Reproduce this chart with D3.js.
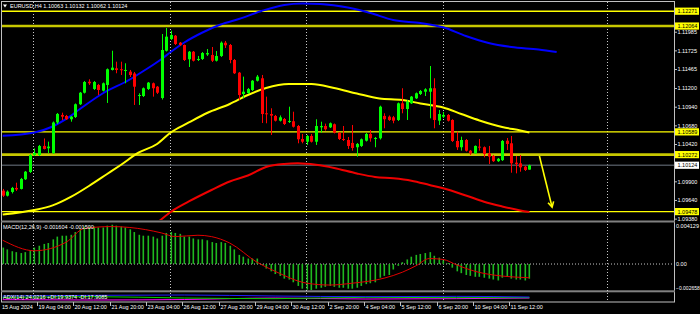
<!DOCTYPE html>
<html lang="en">
<head>
<meta charset="UTF-8" />
<title>EURUSD,H4</title>
<style>
  body { margin: 0; background: #000; }
  svg { display: block; }
  text { font-family: "Liberation Sans", Arial, sans-serif; font-size: 5.5px; fill: #fff; }
</style>
<script src="https://cdn.jsdelivr.net/npm/d3@7/dist/d3.min.js"></script>
</head>
<body>
<svg width="700" height="314"></svg>
<script>
// H4 bars, [open, high, low, close]
const candles = [
  [1.09770,1.09794,1.09682,1.09700],[1.09700,1.09773,1.09689,1.09756],[1.09752,1.09822,1.09731,1.09808],
  [1.09808,1.09881,1.09766,1.09787],[1.09794,1.09947,1.09787,1.09933],[1.09929,1.10044,1.09919,1.10034],
  [1.10030,1.10281,1.10016,1.10267],[1.10267,1.10358,1.10253,1.10295],[1.10267,1.10407,1.10253,1.10393],
  [1.10393,1.10497,1.10344,1.10351],[1.10361,1.10453,1.10291,1.10384],[1.10295,1.10734,1.10281,1.10720],
  [1.10720,1.10852,1.10699,1.10839],[1.10825,1.10857,1.10755,1.10801],[1.10811,1.10825,1.10755,1.10765],
  [1.10765,1.10811,1.10731,1.10801],[1.10797,1.10985,1.10783,1.10974],[1.10974,1.11145,1.10964,1.11135],
  [1.11135,1.11298,1.11124,1.11284],[1.11288,1.11322,1.11243,1.11266],[1.11187,1.11298,1.11173,1.11284],
  [1.11243,1.11257,1.11103,1.11173],[1.11163,1.11277,1.11152,1.11266],[1.11243,1.11473,1.10992,1.11462],
  [1.11452,1.11720,1.11445,1.11484],[1.11475,1.11567,1.11406,1.11452],[1.11462,1.11567,1.11382,1.11448],
  [1.11438,1.11545,1.11266,1.11452],[1.11428,1.11452,1.11354,1.11382],[1.11403,1.11424,1.10964,1.11219],
  [1.11089,1.11127,1.10964,1.11103],[1.11089,1.11208,1.11075,1.11197],[1.11187,1.11284,1.11173,1.11275],
  [1.11266,1.11277,1.11080,1.11197],[1.11219,1.11229,1.11117,1.11135],[1.11061,1.11953,1.11040,1.11730],
  [1.11720,1.12037,1.11709,1.11916],[1.11884,1.11999,1.11870,1.11939],[1.11929,1.11939,1.11800,1.11814],
  [1.11832,1.11842,1.11786,1.11800],[1.11800,1.11807,1.11577,1.11591],[1.11601,1.11716,1.11493,1.11706],
  [1.11706,1.11716,1.11570,1.11581],[1.11595,1.11647,1.11577,1.11605],[1.11605,1.11702,1.11591,1.11688],
  [1.11668,1.11744,1.11647,1.11688],[1.11661,1.11772,1.11563,1.11581],[1.11581,1.11716,1.11570,1.11647],
  [1.11647,1.11849,1.11633,1.11832],[1.11832,1.11856,1.11758,1.11796],[1.11800,1.11814,1.11545,1.11591],
  [1.11591,1.11605,1.11396,1.11406],[1.11414,1.11424,1.11034,1.11103],[1.11117,1.11359,1.11057,1.11149],
  [1.11131,1.11201,1.11117,1.11187],[1.11173,1.11312,1.11159,1.11302],[1.11302,1.11382,1.11291,1.11359],
  [1.11336,1.11382,1.10713,1.10838],[1.10848,1.11080,1.10709,1.10834],[1.10838,1.10918,1.10546,1.10815],
  [1.10811,1.10825,1.10734,1.10745],[1.10745,1.10818,1.10734,1.10792],[1.10769,1.10783,1.10685,1.10699],
  [1.10727,1.10940,1.10713,1.10741],[1.10737,1.10870,1.10650,1.10661],[1.10671,1.10685,1.10430,1.10486],
  [1.10490,1.10560,1.10430,1.10452],[1.10452,1.10546,1.10407,1.10532],[1.10532,1.10560,1.10441,1.10452],
  [1.10452,1.10765,1.10407,1.10671],[1.10653,1.10731,1.10578,1.10671],[1.10671,1.10704,1.10606,1.10625],
  [1.10653,1.10720,1.10643,1.10709],[1.10695,1.10706,1.10567,1.10578],[1.10578,1.10588,1.10476,1.10490],
  [1.10490,1.10671,1.10462,1.10476],[1.10476,1.10518,1.10351,1.10393],[1.10435,1.10685,1.10327,1.10365],
  [1.10375,1.10434,1.10244,1.10421],[1.10393,1.10497,1.10379,1.10486],[1.10466,1.10574,1.10455,1.10560],
  [1.10560,1.10616,1.10452,1.10500],[1.10497,1.10518,1.10375,1.10504],[1.10500,1.10954,1.10483,1.10940],
  [1.10811,1.10848,1.10639,1.10765],[1.10801,1.10818,1.10741,1.10755],[1.10792,1.10811,1.10709,1.10745],
  [1.10755,1.10998,1.10741,1.10987],[1.10987,1.11197,1.10848,1.10908],[1.10908,1.11034,1.10755,1.11010],
  [1.10987,1.11089,1.10978,1.11080],[1.11057,1.11138,1.11047,1.11127],[1.11117,1.11173,1.11103,1.11159],
  [1.11149,1.11197,1.11089,1.11182],[1.11149,1.11507,1.10778,1.11197],[1.11197,1.11336,1.10639,1.10755],
  [1.10745,1.10894,1.10685,1.10838],[1.10801,1.10866,1.10783,1.10825],[1.10825,1.10838,1.10734,1.10745],
  [1.10755,1.10765,1.10448,1.10462],[1.10462,1.10592,1.10337,1.10375],[1.10375,1.10522,1.10327,1.10476],
  [1.10476,1.10490,1.10316,1.10327],[1.10327,1.10337,1.10267,1.10291],[1.10291,1.10400,1.10281,1.10393],
  [1.10383,1.10490,1.10327,1.10372],[1.10375,1.10386,1.10235,1.10281],[1.10291,1.10393,1.10142,1.10244],
  [1.10253,1.10267,1.10170,1.10181],[1.10181,1.10225,1.10170,1.10214],[1.10195,1.10476,1.10184,1.10462],
  [1.10466,1.10504,1.10337,1.10421],[1.10430,1.10532,1.10020,1.10151],[1.10160,1.10253,1.10011,1.10142],
  [1.10151,1.10267,1.10034,1.10095],[1.10104,1.10114,1.10044,1.10058],[1.10063,1.10132,1.10062,1.10124]
];

// moving averages, read at [bar index, price]
const maBlue = [[0,1.10535],[7,1.10581],[11,1.10664],[14,1.10769],[17,1.10908],[22,1.11124],[28,1.11319],
  [31,1.11437],[35,1.11605],[37,1.11702],[40,1.11835],[44,1.11974],[48,1.12085],[52,1.12162],[57,1.12273],
  [62,1.12357],[66,1.12378],[70,1.12371],[76,1.12322],[81,1.12246],[86,1.12148],[92,1.12106],[97,1.12046],
  [102,1.11925],[107,1.11828],[112,1.11772],[118,1.11737],[122,1.11702]];
const maYellow = [[0,1.09438],[7,1.09501],[11,1.09564],[15,1.09682],[19,1.09835],[23,1.10002],[26,1.10128],
  [30,1.10302],[34,1.10420],[37,1.10581],[41,1.10720],[45,1.10852],[50,1.10978],[54,1.11103],[58,1.11201],
  [63,1.11256],[68,1.11256],[73,1.11201],[78,1.11124],[83,1.11054],[88,1.11033],[92,1.10985],[97,1.10929],
  [101,1.10838],[105,1.10748],[110,1.10657],[114,1.10608],[116,1.10581]];
const maRed = [[34,1.09320],[37,1.09473],[41,1.09619],[46,1.09779],[50,1.09898],[54,1.09981],[58,1.10100],
  [62,1.10142],[65,1.10151],[69,1.10130],[73,1.10086],[78,1.10009],[82,1.09961],[86,1.09942],[90,1.09909],
  [94,1.09849],[97,1.09803],[102,1.09703],[106,1.09616],[110,1.09550],[114,1.09494],[116,1.09473]];

// MACD(12,26,9) main histogram, one per bar
const macdMain = [
  0.0018,0.0016,0.0014,0.0013,0.0012,0.0013,0.0015,0.0018,0.0020,0.0022,0.0023,0.0027,0.0030,0.0031,0.0031,
  0.0032,0.0035,0.0038,0.0041,0.0041,0.0041,0.0040,0.0040,0.0042,0.0043,0.0042,0.0041,0.0040,0.0038,0.0035,
  0.0032,0.0031,0.0031,0.0030,0.0028,0.0031,0.0034,0.0035,0.0034,0.0033,0.0030,0.0030,0.0028,0.0027,0.0027,
  0.0026,0.0024,0.0023,0.0024,0.0023,0.0020,0.0016,0.0010,0.0008,0.0006,0.0006,0.0006,-0.0001,-0.0005,-0.0008,
  -0.0011,-0.0013,-0.0016,-0.0017,-0.0020,-0.0024,-0.0027,-0.0028,-0.0029,-0.0027,-0.0026,-0.0025,-0.0024,-0.0025,-0.0026,
  -0.0026,-0.0027,-0.0027,-0.0026,-0.0024,-0.0022,-0.0021,-0.0020,-0.0015,-0.0013,-0.0012,-0.0006,-0.0002,0.0002,0.0005,
  0.0008,0.0010,0.0011,0.0012,0.0013,0.0009,0.0007,0.0004,0.0001,-0.0004,-0.0008,-0.0010,-0.0012,-0.0013,-0.0014,
  -0.0014,-0.0015,-0.0016,-0.0017,-0.0018,-0.0015,-0.0014,-0.0016,-0.0017,-0.0017,-0.0018,-0.001604
];
// signal line, read at [bar index, value]
const macdSignal = [[0,0.0026],[7,0.00145],[14,0.0024],[18,0.0039],[24,0.0041],[28,0.0040],[35,0.0034],
  [38,0.0030],[43,0.00315],[46,0.0030],[50,0.0023],[56,0.0002],[60,-0.0008],[67,-0.0021],[72,-0.0023],
  [77,-0.0021],[84,-0.00155],[88,-0.0009],[91,-0.0002],[94,0.0006],[97,0.0005],[100,-0.0001],
  [104,-0.0008],[108,-0.0012],[112,-0.0014],[116,-0.0015]];

// ADX(14) lines, read at [bar index, value]
const adxMain = [[0,30],[20,34],[40,36],[60,30],[80,26],[100,28],[116,24]];
const adxPlus = [[0,22],[20,26],[40,18],[60,14],[80,22],[100,20],[116,20]];
const adxMinus = [[0,8],[20,6],[40,9],[60,18],[80,12],[100,14],[116,18]];

// tick labels hidden behind the level boxes are left out
const priceTicks = [1.12245,1.11985,1.11725,1.11465,1.11200,1.10940,1.10680,1.10420,1.10160,1.09900,1.09640,1.09380];
const hiddenTicks = [1.12245, 1.10160];
const levels = [
  { price: 1.12271, heavy: false },
  { price: 1.12064, heavy: true },
  { price: 1.10589, heavy: false },
  { price: 1.10272, heavy: true },
  { price: 1.09478, heavy: false }
];
const lastPrice = 1.10124;
const timeIdx = [0,8,16,24,32,40,48,56,64,72,80,88,96,104,112];
const timeLabels = ["15 Aug 2024","19 Aug 04:00","20 Aug 12:00","21 Aug 20:00","23 Aug 04:00","26 Aug 12:00",
  "27 Aug 20:00","29 Aug 04:00","30 Aug 12:00","2 Sep 20:00","4 Sep 04:00","5 Sep 12:00","6 Sep 20:00",
  "10 Sep 04:00","11 Sep 12:00"];
const gridIdx = [6.7, 36.85, 66.8, 96.95, 133.1];
const arrowPts = [[118.2, 1.10253], [121, 1.09540]];

const svg = d3.select('svg');
const W = 700, H = 314;
const plotRight = 674;

const x = d3.scaleLinear().domain([0, 116]).range([2.7, 529.4]);
const y = d3.scaleLinear().domain([1.09361, 1.12399]).range([220, 2]);
const yM = d3.scaleLinear().domain([-0.002658, 0.004129]).range([288.3, 226.3]);
const yA = d3.scaleLinear().domain([0, 45]).range([301, 293.5]);

svg.append('rect').attr('width', W).attr('height', H).attr('fill', '#000');

const defs = svg.append('defs');
defs.append('clipPath').attr('id', 'clipMain')
  .append('rect').attr('x', 2).attr('y', 2).attr('width', plotRight - 2).attr('height', 218);
defs.append('clipPath').attr('id', 'clipMacd')
  .append('rect').attr('x', 2).attr('y', 223).attr('width', plotRight - 2).attr('height', 67);
defs.append('clipPath').attr('id', 'clipAdx')
  .append('rect').attr('x', 2).attr('y', 293).attr('width', plotRight - 2).attr('height', 8.5);

// frames and separators
svg.append('line').attr('x1', 1.5).attr('x2', 1.5).attr('y1', 1.5).attr('y2', 302)
  .attr('stroke', '#c0c0c0').attr('stroke-width', 1);
svg.append('line').attr('x1', 1).attr('x2', plotRight).attr('y1', 1.5).attr('y2', 1.5)
  .attr('stroke', '#c0c0c0');
svg.append('line').attr('x1', plotRight + 0.5).attr('x2', plotRight + 0.5).attr('y1', 1).attr('y2', 302)
  .attr('stroke', '#c0c0c0');
svg.append('rect').attr('x', 1).attr('y', 220.5).attr('width', plotRight).attr('height', 2).attr('fill', '#808080');
svg.append('rect').attr('x', 1).attr('y', 290.3).attr('width', plotRight).attr('height', 2).attr('fill', '#808080');
svg.append('line').attr('x1', 1).attr('x2', plotRight + 1).attr('y1', 302).attr('y2', 302)
  .attr('stroke', '#c0c0c0');

// vertical dotted grid
svg.append('g').selectAll('line').data(gridIdx).join('line')
  .attr('x1', d => Math.round(x(d)) + 0.5).attr('x2', d => Math.round(x(d)) + 0.5)
  .attr('y1', 2).attr('y2', 302)
  .attr('stroke', '#c8c8c8').attr('stroke-width', 1).attr('stroke-dasharray', '1,2');

// MACD zero line
svg.append('line').attr('x1', 2).attr('x2', plotRight).attr('y1', yM(0)).attr('y2', yM(0))
  .attr('stroke', '#c8c8c8').attr('stroke-dasharray', '1,2');

const main = svg.append('g').attr('clip-path', 'url(#clipMain)');

// horizontal levels
main.selectAll('line.level').data(levels).join('line').attr('class', 'level')
  .attr('x1', 2).attr('x2', plotRight).attr('y1', d => y(d.price)).attr('y2', d => y(d.price))
  .attr('stroke', d => d.heavy ? '#c8c800' : '#ffff00')
  .attr('stroke-width', d => d.heavy ? 2.6 : 1.4);
main.append('line').attr('x1', 2).attr('x2', plotRight).attr('y1', y(lastPrice)).attr('y2', y(lastPrice))
  .attr('stroke', '#4a5058').attr('stroke-width', 1.6);

// moving averages
const maLine = d3.line().x(d => x(d[0])).y(d => y(d[1])).curve(d3.curveMonotoneX);
[[maRed, '#ee0000'], [maYellow, '#ffff00'], [maBlue, '#0000ff']].forEach(([data, col]) => {
  main.append('path').attr('d', maLine(data)).attr('fill', 'none')
    .attr('stroke', col).attr('stroke-width', 2);
});

// candles
const bull = '#00ff00', bear = '#ff0000';
const cg = main.append('g');
cg.selectAll('line').data(candles).join('line')
  .attr('x1', (d, i) => Math.round(x(i)) + 0.5).attr('x2', (d, i) => Math.round(x(i)) + 0.5)
  .attr('y1', d => y(d[1])).attr('y2', d => y(d[2]))
  .attr('stroke', d => d[3] >= d[0] ? bull : bear).attr('stroke-width', 1);
cg.selectAll('rect').data(candles).join('rect')
  .attr('x', (d, i) => Math.round(x(i)) - 1)
  .attr('width', 3)
  .attr('y', d => y(Math.max(d[0], d[3])))
  .attr('height', d => Math.max(1, Math.abs(y(d[0]) - y(d[3]))))
  .attr('fill', d => d[3] >= d[0] ? bull : bear);

// yellow arrow
const ap = arrowPts.map(p => [x(p[0]), y(p[1])]);
const ang = Math.atan2(ap[1][1] - ap[0][1], ap[1][0] - ap[0][0]);
main.append('line').attr('x1', ap[0][0]).attr('y1', ap[0][1]).attr('x2', ap[1][0]).attr('y2', ap[1][1])
  .attr('stroke', '#ffff00').attr('stroke-width', 1.6);
const hl = 6;
main.append('path')
  .attr('d', d3.line()([
    [ap[1][0] - hl * Math.cos(ang - 0.5), ap[1][1] - hl * Math.sin(ang - 0.5)],
    ap[1],
    [ap[1][0] - hl * Math.cos(ang + 0.5), ap[1][1] - hl * Math.sin(ang + 0.5)]
  ]))
  .attr('fill', 'none').attr('stroke', '#ffff00').attr('stroke-width', 1.6);

// MACD pane
const mg = svg.append('g').attr('clip-path', 'url(#clipMacd)');
mg.selectAll('rect').data(macdMain).join('rect')
  .attr('x', (d, i) => Math.round(x(i)) - 0.5).attr('width', 1.6)
  .attr('y', d => Math.min(yM(d), yM(0)))
  .attr('height', d => Math.abs(yM(d) - yM(0)))
  .attr('fill', '#1fb81f');
mg.append('path')
  .attr('d', d3.line().x(d => x(d[0])).y(d => yM(d[1])).curve(d3.curveMonotoneX)(macdSignal))
  .attr('fill', 'none').attr('stroke', '#e00000').attr('stroke-width', 1);

// ADX pane
const ag = svg.append('g').attr('clip-path', 'url(#clipAdx)');
const adxLine = d3.line().x(d => x(d[0])).y(d => yA(d[1])).curve(d3.curveMonotoneX);
[[adxMinus, '#ff00ff'], [adxPlus, '#00d000'], [adxMain, '#2020ff']].forEach(([data, col]) => {
  ag.append('path').attr('d', adxLine(data)).attr('fill', 'none').attr('stroke', col).attr('stroke-width', 1);
});

// right price axis
const axisG = svg.append('g').attr('transform', `translate(${plotRight},0)`);
axisG.call(d3.axisRight(y).tickValues(priceTicks).tickSize(3).tickSizeOuter(0)
  .tickFormat(d => hiddenTicks.includes(d) ? '' : d3.format('.5f')(d)));
axisG.select('.domain').remove();
axisG.selectAll('line').attr('stroke', '#c0c0c0');
axisG.selectAll('text').attr('font-size', null).attr('font-family', null).attr('fill', '#fff').attr('x', 3.5);

// level labels
const boxes = levels.map(l => ({ price: l.price, bg: '#ffff00' })).concat([{ price: lastPrice, bg: '#ffffff' }]);
const bg = svg.append('g');
bg.selectAll('rect').data(boxes).join('rect')
  .attr('x', plotRight + 1).attr('y', d => y(d.price) - 3.6).attr('width', 24).attr('height', 7.2)
  .attr('fill', d => d.bg);
bg.selectAll('text').data(boxes).join('text')
  .attr('x', plotRight + 3.5).attr('y', d => y(d.price)).attr('dy', '0.35em')
  .style('fill', '#000').text(d => d3.format('.5f')(d.price));

// MACD axis labels
const macdTicks = [0.004129, 0, -0.002658];
svg.append('g').selectAll('text').data(macdTicks).join('text')
  .attr('x', plotRight + 2).attr('y', d => yM(d)).attr('dy', '0.35em')
  .style('font-size', d => d < 0 ? '5px' : null)
  .text(d => d === 0 ? '0.00' : d3.format('.6f')(d));

// time axis
const tg = svg.append('g');
tg.selectAll('line').data(timeIdx.slice(1)).join('line')
  .attr('x1', d => Math.round(x(d)) - 1.5).attr('x2', d => Math.round(x(d)) - 1.5)
  .attr('y1', 302).attr('y2', 306).attr('stroke', '#c0c0c0');
tg.selectAll('text').data(timeIdx).join('text')
  .attr('x', (d, i) => i === 0 ? 2 : Math.round(x(d)) - 0.5).attr('y', 309)
  .text((d, i) => timeLabels[i]);

// header texts
svg.append('path').attr('d', 'M3,4.5 L7,4.5 L5,7.5 Z').attr('fill', '#fff');
svg.append('text').attr('x', 10).attr('y', 8.3).text('EURUSD,H4  1.10063 1.10132 1.10062 1.10124');
svg.append('text').attr('x', 3).attr('y', 228.6).text('MACD(12,26,9) -0.001604 -0.001500');
svg.append('text').attr('x', 3).attr('y', 298.6).text('ADX(14) 24.0216 +DI:19.9374 -DI:17.9085');
</script>
</body>
</html>
